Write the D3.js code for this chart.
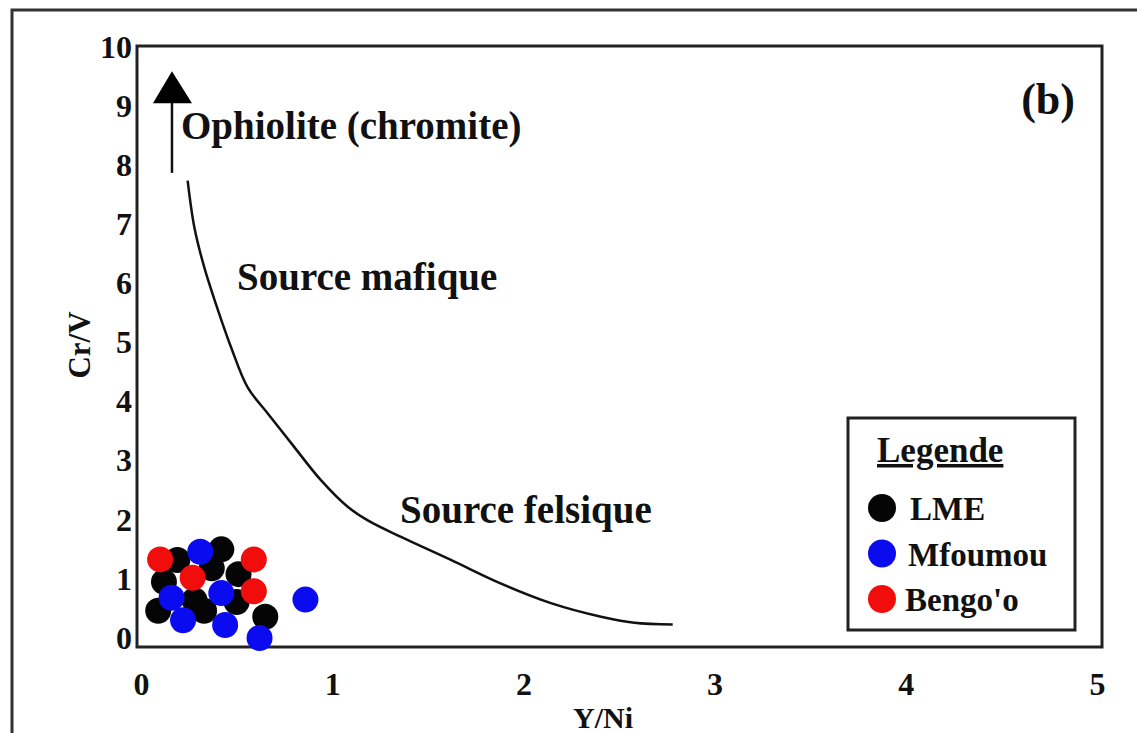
<!DOCTYPE html>
<html>
<head>
<meta charset="utf-8">
<script src="https://cdn.jsdelivr.net/npm/d3@7"></script>
<style>
  html, body { margin: 0; padding: 0; background: #fff; }
  svg text { font-family: "Liberation Serif", "Times New Roman", serif; font-weight: bold; fill: #111; }
</style>
</head>
<body>
<svg id="chart" width="1137" height="733"></svg>
<script>
// Y/Ni vs Cr/V discrimination diagram (b)

const xTicks = [0, 1, 2, 3, 4, 5];
const yTicks = [0, 1, 2, 3, 4, 5, 6, 7, 8, 9, 10];

// Samples: [Y/Ni, Cr/V]
const lme = [
  [0.12, 0.95], [0.09, 0.46], [0.19, 1.32], [0.37, 1.18], [0.28, 0.64],
  [0.33, 0.46], [0.42, 1.50], [0.51, 1.08], [0.50, 0.61], [0.65, 0.36]
];
const mfoumou = [
  [0.31, 1.46], [0.16, 0.68], [0.22, 0.30], [0.44, 0.22], [0.42, 0.76],
  [0.62, 0.00], [0.86, 0.65]
];
const bengoo = [
  [0.10, 1.33], [0.27, 1.02], [0.59, 1.33], [0.59, 0.79]
];

// Mafic / felsic source boundary
const boundaryX = [0.244, 0.279, 0.331, 0.392, 0.471, 0.558, 0.663, 0.802, 0.941, 1.081, 1.186, 1.360, 1.621, 1.883, 2.144, 2.406, 2.580, 2.781];
const boundaryY = [7.74, 6.95, 6.27, 5.65, 4.92, 4.24, 3.80, 3.23, 2.67, 2.22, 1.99, 1.71, 1.32, 0.92, 0.59, 0.36, 0.26, 0.23];

// Ophiolite trend arrow (x, y start, y tip)
const arrowX = 0.162;
const arrowY = [7.87, 9.59];

const seriesNames = ["LME", "Mfoumou", "Bengo'o"];
const seriesColors = ["#050505", "#0b0bf0", "#f20d0d"];

const svg = d3.select("#chart");

// outer frame
svg.append("rect")
  .attr("x", 12).attr("y", 10).attr("width", 1140).attr("height", 740)
  .attr("fill", "none").attr("stroke", "#333").attr("stroke-width", 3);

const x = d3.scaleLinear().domain([0, 5]).range([141, 1097]);
const y = d3.scaleLinear().domain([0, 10]).range([638, 47]);

const plotL = 137, plotR = 1102, plotT = 46, plotB = 647;

// x axis labels
const xAxis = d3.axisBottom(x).tickValues(xTicks).tickSize(0).tickPadding(25).tickFormat(d3.format("d"));
const gx = svg.append("g").attr("transform", `translate(0,${plotB})`).call(xAxis);
gx.select(".domain").remove();
gx.selectAll("text").attr("font-size", 32).attr("fill", "#111")
  .style("font-family", "'Liberation Serif', serif").style("font-weight", "bold");

// y axis labels
const yAxis = d3.axisLeft(y).tickValues(yTicks).tickSize(0).tickPadding(5).tickFormat(d3.format("d"));
const gy = svg.append("g").attr("transform", `translate(${plotL},0)`).call(yAxis);
gy.select(".domain").remove();
gy.selectAll("text").attr("font-size", 32).attr("fill", "#111")
  .style("font-family", "'Liberation Serif', serif").style("font-weight", "bold");

// plot frame
svg.append("rect")
  .attr("x", plotL).attr("y", plotT).attr("width", plotR - plotL).attr("height", plotB - plotT)
  .attr("fill", "none").attr("stroke", "#222").attr("stroke-width", 3);

// axis titles
svg.append("text").attr("x", 603).attr("y", 728).attr("text-anchor", "middle")
  .attr("font-size", 30).text("Y/Ni");
svg.append("text").attr("transform", "translate(90,345) rotate(-90)").attr("text-anchor", "middle")
  .attr("font-size", 31).text("Cr/V");

// boundary curve
const curve = boundaryX.map((v, i) => [v, boundaryY[i]]);
svg.append("path")
  .datum(curve)
  .attr("d", d3.line().x(d => x(d[0])).y(d => y(d[1])).curve(d3.curveCatmullRom))
  .attr("fill", "none").attr("stroke", "#111").attr("stroke-width", 2.5);

// ophiolite arrow
svg.append("line")
  .attr("x1", x(arrowX)).attr("x2", x(arrowX))
  .attr("y1", y(arrowY[0])).attr("y2", y(arrowY[1]) + 30)
  .attr("stroke", "#111").attr("stroke-width", 2.5);
svg.append("path")
  .attr("d", `M${x(arrowX)},${y(arrowY[1])} L${x(arrowX) - 19},${y(arrowY[1]) + 32} L${x(arrowX) + 20},${y(arrowY[1]) + 32} Z`)
  .attr("fill", "#000");

// region labels
svg.append("text").attr("x", 181).attr("y", 139).attr("font-size", 39).text("Ophiolite (chromite)");
svg.append("text").attr("x", 237).attr("y", 290).attr("font-size", 39).text("Source mafique");
svg.append("text").attr("x", 400).attr("y", 523).attr("font-size", 39).text("Source felsique");
svg.append("text").attr("x", 1075).attr("y", 114).attr("text-anchor", "end").attr("font-size", 44).text("(b)");

// samples: black first, then blue, then red on top
const groups = [lme, mfoumou, bengoo];
groups.forEach((data, i) => {
  svg.append("g").selectAll("circle").data(data).join("circle")
    .attr("cx", d => x(d[0])).attr("cy", d => y(d[1])).attr("r", 13)
    .attr("fill", seriesColors[i]);
});

// legend
const lg = svg.append("g");
lg.append("rect").attr("x", 848).attr("y", 418).attr("width", 227).attr("height", 212)
  .attr("fill", "#fff").attr("stroke", "#222").attr("stroke-width", 3);
lg.append("text").attr("x", 877).attr("y", 462).attr("font-size", 35)
  .attr("text-decoration", "underline").text("Legende");
seriesNames.forEach((name, i) => {
  const cy = 508 + i * 45.5;
  lg.append("circle").attr("cx", 882).attr("cy", cy).attr("r", 14).attr("fill", seriesColors[i]);
  lg.append("text").attr("x", [910, 908, 905][i]).attr("y", cy + 12).attr("font-size", 33).text(name);
});
</script>
</body>
</html>
